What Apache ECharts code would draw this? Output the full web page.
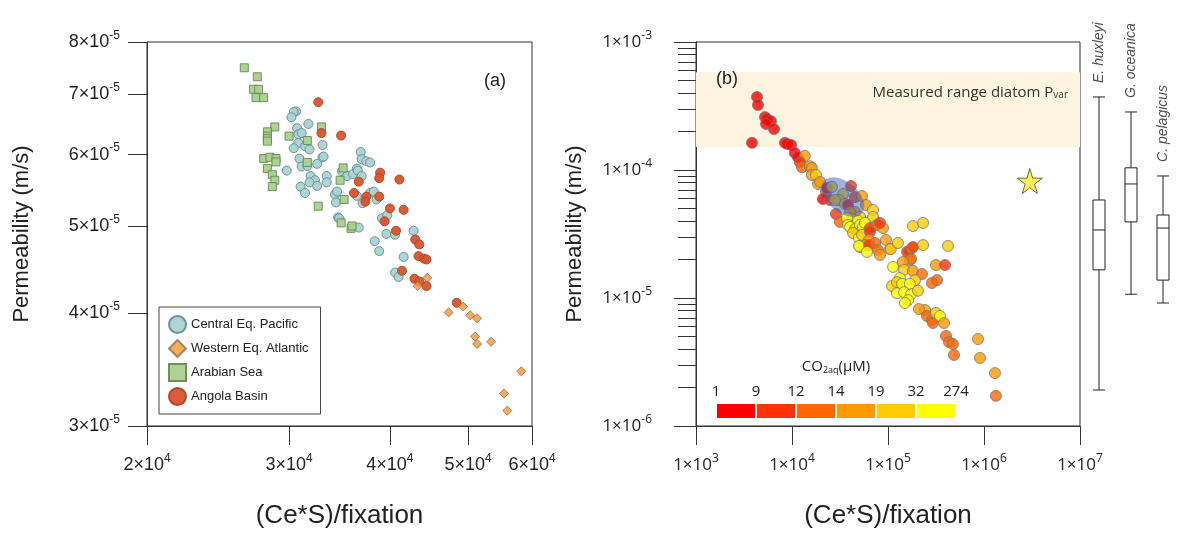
<!DOCTYPE html>
<html><head><meta charset="utf-8">
<script src="https://cdn.jsdelivr.net/npm/echarts@6/dist/echarts.min.js"></script>
<style>html,body{margin:0;padding:0;background:#fff}#c{width:1179px;height:539px}</style>
</head><body><div id="c"></div><script>
// ---------- Panel (a) data: [(Ce*S)/fixation, permeability m/s] ----------
const centralEqPacific = [[30600,6.70e-5],[30400,6.69e-5],[30200,6.60e-5],[31700,6.49e-5],[30700,6.42e-5],[30800,6.32e-5],[31100,6.34e-5],[30800,6.18e-5],[30400,6.10e-5],[31400,6.13e-5],[31800,6.08e-5],[33000,6.15e-5],[30900,5.94e-5],[31100,5.82e-5],[31600,5.83e-5],[32500,5.86e-5],[33000,5.96e-5],[33100,5.97e-5],[29800,5.76e-5],[31900,5.68e-5],[32300,5.62e-5],[31800,5.59e-5],[32500,5.54e-5],[33400,5.68e-5],[33400,5.59e-5],[31000,5.53e-5],[31400,5.44e-5],[36800,6.04e-5],[36900,5.93e-5],[37400,5.90e-5],[37800,5.88e-5],[34900,5.75e-5],[35400,5.68e-5],[36000,5.71e-5],[36400,5.79e-5],[36500,5.76e-5],[36900,5.68e-5],[34200,5.42e-5],[34400,5.46e-5],[34300,5.31e-5],[36400,5.40e-5],[37000,5.30e-5],[37800,5.44e-5],[38200,5.46e-5],[38500,5.35e-5],[34500,5.11e-5],[34600,5.10e-5],[36600,4.98e-5],[39100,5.10e-5],[39700,5.14e-5],[39600,4.90e-5],[40600,4.89e-5],[42800,4.94e-5],[38300,4.81e-5],[38800,4.69e-5],[41600,4.62e-5],[40600,4.44e-5],[41000,4.39e-5]];
const westernEqAtlantic = [[44500,4.38e-5],[43300,4.29e-5],[49300,4.07e-5],[47300,4.01e-5],[50300,3.98e-5],[51300,3.95e-5],[51000,3.77e-5],[51300,3.70e-5],[53400,3.72e-5],[58200,3.45e-5],[55400,3.26e-5],[55900,3.12e-5]];
const arabianSea = [[26400,7.49e-5],[27400,7.32e-5],[27100,7.09e-5],[27500,7.09e-5],[27300,6.94e-5],[27900,6.94e-5],[28800,6.44e-5],[28200,6.36e-5],[28200,6.29e-5],[28200,6.25e-5],[28200,6.21e-5],[30000,6.29e-5],[31600,6.22e-5],[32900,6.44e-5],[27900,5.94e-5],[28400,5.96e-5],[28900,5.94e-5],[28900,5.89e-5],[28200,5.79e-5],[28600,5.70e-5],[28800,5.62e-5],[28600,5.53e-5],[31600,5.88e-5],[35000,5.80e-5],[34700,5.62e-5],[35100,5.35e-5],[32600,5.26e-5],[34800,5.04e-5],[35800,4.97e-5],[35900,5.00e-5]];
const angolaBasin = [[32600,6.86e-5],[32900,6.34e-5],[34800,6.30e-5],[38900,5.73e-5],[38800,5.65e-5],[36600,5.60e-5],[41100,5.63e-5],[36100,5.44e-5],[37400,5.39e-5],[37300,5.32e-5],[38800,5.39e-5],[40000,5.23e-5],[41600,5.21e-5],[39400,5.06e-5],[40700,4.94e-5],[43000,4.83e-5],[43500,4.77e-5],[43400,4.63e-5],[44100,4.60e-5],[44400,4.59e-5],[41400,4.46e-5],[42900,4.37e-5],[43500,4.34e-5],[44400,4.29e-5],[48400,4.11e-5]];
const leftXTicks = [2e4,3e4,4e4,5e4,6e4];
const leftYTicks = [3e-5,4e-5,5e-5,6e-5,7e-5,8e-5];

// ---------- Panel (b) data: [(Ce*S)/fixation, permeability, CO2 class index] ----------
const co2Points = [[4.32e3,3.72e-4,0],[4.42e3,3.22e-4,0],[5.23e3,2.59e-4,0],[5.49e3,2.50e-4,0],[6.04e3,2.41e-4,0],[5.36e3,2.29e-4,0],[6.49e3,2.09e-4,0],[3.83e3,1.63e-4,0],[8.45e3,1.63e-4,0],[8.87e3,1.60e-4,0],[9.77e3,1.57e-4,0],[1.07e4,1.36e-4,0],[1.15e4,1.26e-4,0],[1.36e4,1.29e-4,3],[1.21e4,1.15e-4,1],[1.27e4,1.05e-4,2],[1.54e4,1.07e-4,3],[1.61e4,1.04e-4,3],[1.61e4,9.14e-5,3],[1.78e4,9.14e-5,4],[1.87e4,7.78e-5,3],[1.96e4,8.06e-5,3],[2.26e4,6.73e-5,2],[2.32e4,7.23e-5,0],[2.61e4,7.37e-5,4],[3.40e4,6.49e-5,4],[4.12e4,7.50e-5,1],[2.10e4,5.93e-5,0],[2.49e4,5.83e-5,1],[3.09e4,5.83e-5,4],[3.56e4,5.43e-5,4],[2.80e4,5.83e-5,4],[3.83e4,5.33e-5,0],[4.53e4,6.15e-5,1],[5.36e4,6.26e-5,3],[4.53e4,4.70e-5,3],[5.90e4,5.33e-5,3],[6.98e4,4.87e-5,4],[6.98e4,4.30e-5,4],[2.87e4,4.53e-5,1],[3.16e4,3.93e-5,2],[4.02e4,4.70e-5,3],[5.11e4,4.30e-5,4],[4.22e4,4.14e-5,4],[4.87e4,4.00e-5,5],[3.74e4,4.22e-5,5],[3.83e4,3.72e-5,5],[4.02e4,3.59e-5,5],[4.53e4,3.46e-5,4],[5.11e4,3.72e-5,5],[5.49e4,3.59e-5,5],[5.75e4,3.86e-5,5],[6.49e4,3.52e-5,1],[7.68e4,3.72e-5,2],[8.87e4,3.52e-5,3],[8.26e4,3.86e-5,1],[4.32e4,3.22e-5,4],[4.99e4,2.94e-5,5],[5.36e4,3.11e-5,4],[6.49e4,3.28e-5,1],[6.34e4,2.84e-5,3],[5.75e4,2.59e-5,3],[5.11e4,2.50e-5,5],[4.99e4,2.55e-5,5],[6.34e4,2.59e-5,1],[6.04e4,2.29e-5,5],[7.33e4,2.69e-5,2],[7.87e4,2.37e-5,2],[8.26e4,2.17e-5,3],[9.53e4,2.84e-5,3],[1.05e5,2.41e-5,3],[1.07e5,2.41e-5,4],[1.27e5,2.69e-5,4],[1.58e5,2.29e-5,1],[1.66e5,2.33e-5,1],[1.78e5,2.46e-5,4],[1.82e5,2.50e-5,1],[1.69e5,1.98e-5,3],[1.74e5,2.02e-5,2],[1.82e5,3.65e-5,4],[2.32e5,3.86e-5,4],[2.32e5,2.59e-5,4],[4.22e5,2.55e-5,4],[1.13e5,1.75e-5,5],[1.43e5,1.91e-5,3],[1.47e5,1.66e-5,4],[1.82e5,1.63e-5,3],[2.26e5,1.54e-5,2],[3.16e5,1.81e-5,3],[3.93e5,1.81e-5,1],[2.87e5,1.31e-5,2],[3.24e5,1.38e-5,2],[1.33e5,1.43e-5,5],[1.91e5,1.38e-5,4],[1.10e5,1.24e-5,4],[1.24e5,1.33e-5,4],[1.40e5,1.29e-5,5],[1.69e5,1.29e-5,5],[1.24e5,1.09e-5,5],[1.47e5,1.11e-5,5],[1.74e5,1.07e-5,5],[2.05e5,1.14e-5,4],[1.62e5,9.64e-6,5],[1.50e5,9.14e-6,5],[2.43e5,8.06e-6,3],[2.10e5,8.20e-6,3],[2.55e5,7.23e-6,2],[2.87e5,6.73e-6,2],[2.94e5,6.38e-6,2],[3.16e5,7.64e-6,4],[3.48e5,7.23e-6,5],[3.83e5,6.38e-6,3],[4.02e5,5.05e-6,2],[4.32e5,4.53e-6,2],[4.75e5,4.37e-6,2],[4.87e5,3.59e-6,2],[8.66e5,4.78e-6,3],[9.08e5,3.40e-6,3],[1.30e6,2.59e-6,3],[1.33e6,1.72e-6,2]];
const co2Labels = ['1','9','12','14','19','32','274'];
const co2Colors = ['#ff0000','#ff3300','#ff6600','#ff9900','#ffcc00','#ffff00'];
const diatomRange = [1.51e-4, 5.8e-4];
const starPoint = [[3.0e6, 8.2e-5]];
const blobPoint = [[3.4e4, 6.15e-5]];
const rightXRange = [1e3, 1e7];
const rightYRange = [1e-6, 1e-3];
const boxNames = ['E. huxleyi','G. oceanica','C. pelagicus'];
const boxValues = [[1.91e-6,1.66e-5,3.40e-5,5.83e-5,3.72e-4],[1.07e-5,3.93e-5,7.78e-5,1.04e-4,2.84e-4],[9.14e-6,1.38e-5,3.52e-5,4.45e-5,8.98e-5]];

// ---------- helpers ----------
const L = Math.log10;
const lg = arr => arr.map(p => [L(p[0]), L(p[1])]);
function sci(logv){
  const v = Math.pow(10, logv);
  const e = Math.floor(logv + 1e-9);
  const m = Math.round(v / Math.pow(10, e));
  return '{b|' + m + '×10}{sup|' + e + '}';
}
const AR = 'Liberation Sans';
const OS = 'Open Sans';
const richL = {b:{fontSize:18,lineHeight:25,fontFamily:AR,color:'#222'},sup:{fontSize:12,lineHeight:12,verticalAlign:'top',fontFamily:AR,color:'#222'}};
const richR = {b:{fontSize:17,lineHeight:25,fontFamily:OS,color:'#222'},sup:{fontSize:12,lineHeight:12,verticalAlign:'top',fontFamily:OS,color:'#222'}};
const axLine = {show:true,lineStyle:{color:'#333',width:1}};
const axTick = (len) => ({show:true,inside:false,length:len,lineStyle:{color:'#333',width:1}});
const minorY = [];
for (let n=-6; n<-3; n++) for (let k=2; k<=9; k++) minorY.push(L(k*Math.pow(10,n)));

const chart = echarts.init(document.getElementById('c'), null, {renderer:'canvas'});
chart.setOption({
  animation:false,
  backgroundColor:'#fff',
  grid:[
    {left:147,top:42,width:385,height:384,show:true,borderColor:'#333',borderWidth:1,backgroundColor:'transparent',outerBoundsMode:'none'},
    {left:696,top:42,width:384,height:384,show:true,borderColor:'#333',borderWidth:1,backgroundColor:'transparent',outerBoundsMode:'none'},
    {left:1083,top:42,width:96,height:384,show:false,outerBoundsMode:'none'},
    {left:716,top:403,width:240,height:16,show:false,outerBoundsMode:'none'}
  ],
  xAxis:[
    {gridIndex:0,type:'value',min:L(leftXTicks[0]),max:L(leftXTicks[leftXTicks.length-1]),
     axisLine:axLine,axisTick:Object.assign(axTick(19),{customValues:leftXTicks.map(L)}),splitLine:{show:false},
     axisLabel:{customValues:leftXTicks.map(L),formatter:sci,rich:richL,margin:27},
     name:'(Ce*S)/fixation',nameLocation:'middle',nameGap:77,nameTextStyle:{fontSize:26,fontFamily:AR,color:'#222'}},
    {gridIndex:1,type:'value',min:L(rightXRange[0]),max:L(rightXRange[1]),interval:1,
     axisLine:axLine,axisTick:axTick(19),splitLine:{show:false},
     axisLabel:{formatter:sci,rich:richR,margin:27},
     name:'(Ce*S)/fixation',nameLocation:'middle',nameGap:77,nameTextStyle:{fontSize:26,fontFamily:AR,color:'#222'}},
    {gridIndex:2,type:'category',data:boxNames,show:false},
    {gridIndex:3,type:'value',min:0,max:co2Labels.length-1,position:'top',
     axisLine:{show:false},axisTick:{show:false},splitLine:{show:false},
     axisLabel:{customValues:co2Labels.map((s,i)=>i),formatter:v=>co2Labels[Math.round(v)],margin:4,fontSize:15,fontFamily:OS,color:'#222'},
     name:'CO{sub|2aq}(μM)',nameLocation:'middle',nameGap:28,
     nameTextStyle:{fontSize:15,fontFamily:OS,color:'#222',rich:{sub:{fontSize:9,verticalAlign:'bottom',fontFamily:OS,color:'#222',padding:[7,0,0,0]}}}}
  ],
  yAxis:[
    {gridIndex:0,type:'value',min:L(leftYTicks[0]),max:L(leftYTicks[leftYTicks.length-1]),
     axisLine:axLine,axisTick:Object.assign(axTick(19),{customValues:leftYTicks.map(L)}),splitLine:{show:false},
     axisLabel:{customValues:leftYTicks.map(L),formatter:sci,rich:richL,margin:27},
     name:'Permeability (m/s)',nameLocation:'middle',nameGap:114,nameTextStyle:{fontSize:22,fontFamily:AR,color:'#222'}},
    {gridIndex:1,type:'value',position:'left',min:L(rightYRange[0]),max:L(rightYRange[1]),interval:1,
     axisLine:axLine,axisTick:axTick(22),splitLine:{show:false},
     axisLabel:{formatter:sci,rich:richR,margin:44},
     name:'Permeability (m/s)',nameLocation:'middle',nameGap:110,nameTextStyle:{fontSize:22,fontFamily:AR,color:'#222'}},
    {gridIndex:1,type:'value',position:'left',min:L(rightYRange[0]),max:L(rightYRange[1]),
     axisLine:{show:false},axisLabel:{show:false},splitLine:{show:false},
     axisTick:{show:true,length:18,customValues:minorY,lineStyle:{color:'#333',width:1}}},
    {gridIndex:2,type:'value',min:L(rightYRange[0]),max:L(rightYRange[1]),show:false},
    {gridIndex:3,type:'category',data:['CO2'],show:false}
  ],
  legend:{
    data:['Central Eq. Pacific','Western Eq. Atlantic','Arabian Sea','Angola Basin'],
    orient:'vertical',left:159,top:307,padding:[8,12,8,9],itemGap:5,itemWidth:17,itemHeight:17,
    borderColor:'#444',borderWidth:1,borderRadius:0,backgroundColor:'#fff',
    textStyle:{fontSize:13,fontFamily:AR,color:'#222'}
  },
  graphic:[
    {type:'text',left:484,top:72,z:100,style:{text:'(a)',fontSize:18,fontFamily:AR,fill:'#222'}},
    {type:'text',left:716,top:70,z:100,style:{text:'(b)',fontSize:18,fontFamily:AR,fill:'#222'}}
  ],
  series:[
    {name:'Central Eq. Pacific',type:'scatter',xAxisIndex:0,yAxisIndex:0,symbol:'circle',symbolSize:9,
     itemStyle:{color:'#a8d4d4',borderColor:'#6e8c8c',borderWidth:1,opacity:0.95},data:lg(centralEqPacific)},
    {name:'Arabian Sea',type:'scatter',xAxisIndex:0,yAxisIndex:0,symbol:'rect',symbolSize:8,
     itemStyle:{color:'#a9d18e',borderColor:'#6b8a5a',borderWidth:1,opacity:0.95},data:lg(arabianSea)},
    {name:'Angola Basin',type:'scatter',xAxisIndex:0,yAxisIndex:0,symbol:'circle',symbolSize:9,
     itemStyle:{color:'#d9542c',borderColor:'#a84828',borderWidth:1,opacity:0.95},data:lg(angolaBasin)},
    {name:'Western Eq. Atlantic',type:'scatter',xAxisIndex:0,yAxisIndex:0,symbol:'diamond',symbolSize:9,
     itemStyle:{color:'#f7962e',borderColor:'#8a7060',borderWidth:1},data:lg(westernEqAtlantic)},
    {type:'scatter',xAxisIndex:1,yAxisIndex:1,data:[],z:1,
     markArea:{silent:true,itemStyle:{color:'#fdf5df'},
       label:{show:true,position:'insideTopRight',distance:10,offset:[-2,2],formatter:'Measured range diatom P{sub|var}',
         fontSize:15,fontFamily:OS,color:'#333',rich:{sub:{fontSize:10,fontFamily:OS,color:'#333',verticalAlign:'bottom',padding:[6,0,0,0]}}},
       data:[[{yAxis:L(diatomRange[1])},{yAxis:L(diatomRange[0])}]]}},
    {type:'scatter',xAxisIndex:1,yAxisIndex:1,symbol:'circle',symbolSize:11,z:3,
     itemStyle:{color:p=>co2Colors[p.data[2]],borderColor:'#767676',borderWidth:1},
     data:co2Points.map(p=>[L(p[0]),L(p[1]),p[2]])},
    {type:'scatter',xAxisIndex:1,yAxisIndex:1,symbol:'circle',symbolSize:[50,30],symbolRotate:-40,z:4,
     itemStyle:{color:'rgba(50,95,190,0.6)'},data:lg(blobPoint)},
    {type:'scatter',xAxisIndex:1,yAxisIndex:1,z:4,
     symbol:'path://M50,0 L61,35 L98,35 L68,57 L79,91 L50,70 L21,91 L32,57 L2,35 L39,35 Z',symbolSize:25,
     itemStyle:{color:'#ffee22',borderColor:'#444',borderWidth:1},data:lg(starPoint)},
    {type:'boxplot',xAxisIndex:2,yAxisIndex:3,boxWidth:[12,12],
     itemStyle:{color:'#fff',borderColor:'#222',borderWidth:1},
     data:boxValues.map(r=>r.map(L))},
    {type:'scatter',xAxisIndex:2,yAxisIndex:3,symbolSize:0,
     label:{show:true,position:'top',distance:14,rotate:90,align:'left',verticalAlign:'middle',formatter:'{b}',
       fontSize:14,fontStyle:'italic',fontFamily:AR,color:'#222'},
     data:boxNames.map((n,i)=>({name:n,value:[i,L(boxValues[i][4])]}))}
  ].concat(co2Colors.map(c=>({type:'bar',xAxisIndex:3,yAxisIndex:4,stack:'cb',barWidth:16,silent:true,
     itemStyle:{color:c,borderColor:'#fff',borderWidth:1},data:[1]})))
});
</script></body></html>
